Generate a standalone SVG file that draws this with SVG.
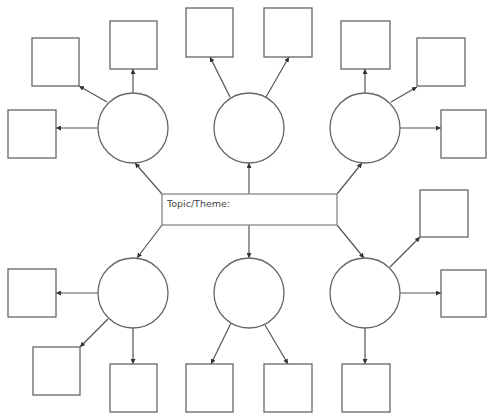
<svg xmlns="http://www.w3.org/2000/svg" width="487" height="413" viewBox="0 0 487 413">
<style>
.box{fill:#fff;stroke:#666;stroke-width:1.3}
.circ{fill:#fff;stroke:#666;stroke-width:1.3}
.topic{fill:#fff;stroke:#888;stroke-width:1.3}
.ln{stroke:#555;stroke-width:1.2;fill:none;marker-end:url(#ah)}
text{font-family:"DejaVu Sans","Liberation Sans",sans-serif;font-size:9.5px;fill:#444}
</style>
<defs>
<marker id="ah" viewBox="0 0 10 10" refX="10" refY="5" markerWidth="5" markerHeight="5" markerUnits="userSpaceOnUse" orient="auto">
<path d="M0,0 L10,5 L0,10 z" fill="#333"/>
</marker>
</defs>
<rect width="487" height="413" fill="#fff"/>
<g id="connectors">
<line class="ln" x1="162" y1="194" x2="135" y2="163"/>
<line class="ln" x1="249" y1="194" x2="249" y2="163"/>
<line class="ln" x1="337" y1="194" x2="362" y2="163"/>
<line class="ln" x1="162" y1="225" x2="137" y2="258"/>
<line class="ln" x1="249" y1="225" x2="249" y2="258"/>
<line class="ln" x1="337" y1="225" x2="364" y2="258"/>
<line class="ln" x1="133" y1="93" x2="133" y2="69"/>
<line class="ln" x1="107" y1="102" x2="79" y2="86"/>
<line class="ln" x1="98" y1="128" x2="56" y2="128"/>
<line class="ln" x1="230" y1="97" x2="210" y2="57"/>
<line class="ln" x1="266" y1="97" x2="289" y2="57"/>
<line class="ln" x1="365" y1="93" x2="365" y2="69"/>
<line class="ln" x1="391" y1="102" x2="417" y2="87"/>
<line class="ln" x1="400" y1="128" x2="441" y2="128"/>
<line class="ln" x1="98" y1="293" x2="56" y2="293"/>
<line class="ln" x1="108" y1="319" x2="80" y2="347"/>
<line class="ln" x1="133" y1="328" x2="133" y2="364"/>
<line class="ln" x1="231" y1="323" x2="211" y2="364"/>
<line class="ln" x1="265" y1="325" x2="288" y2="364"/>
<line class="ln" x1="390" y1="267" x2="420" y2="237"/>
<line class="ln" x1="400" y1="293" x2="441" y2="293"/>
<line class="ln" x1="365" y1="328" x2="365" y2="364"/>
</g>
<g id="topic"><rect class="topic" x="162" y="194" width="175" height="31"/><text x="167" y="207">Topic/Theme:</text></g>
<g id="c1"><circle class="circ" cx="133" cy="128" r="35"/></g>
<g id="c2"><circle class="circ" cx="249" cy="128" r="35"/></g>
<g id="c3"><circle class="circ" cx="365" cy="128" r="35"/></g>
<g id="c4"><circle class="circ" cx="133" cy="293" r="35"/></g>
<g id="c5"><circle class="circ" cx="249" cy="293" r="35"/></g>
<g id="c6"><circle class="circ" cx="365" cy="293" r="35"/></g>
<g id="b1"><rect class="box" x="32" y="38" width="47" height="48"/></g>
<g id="b2"><rect class="box" x="110" y="21" width="47" height="48"/></g>
<g id="b3"><rect class="box" x="8" y="110" width="48" height="48"/></g>
<g id="b4"><rect class="box" x="186" y="8" width="47" height="49"/></g>
<g id="b5"><rect class="box" x="264" y="8" width="48" height="49"/></g>
<g id="b6"><rect class="box" x="341" y="21" width="49" height="48"/></g>
<g id="b7"><rect class="box" x="417" y="38" width="48" height="48"/></g>
<g id="b8"><rect class="box" x="441" y="110" width="45" height="48"/></g>
<g id="b9"><rect class="box" x="420" y="190" width="48" height="47"/></g>
<g id="b10"><rect class="box" x="441" y="270" width="45" height="47"/></g>
<g id="b11"><rect class="box" x="8" y="269" width="48" height="48"/></g>
<g id="b12"><rect class="box" x="33" y="347" width="47" height="48"/></g>
<g id="b13"><rect class="box" x="110" y="364" width="47" height="48"/></g>
<g id="b14"><rect class="box" x="186" y="364" width="47" height="48"/></g>
<g id="b15"><rect class="box" x="264" y="364" width="48" height="48"/></g>
<g id="b16"><rect class="box" x="342" y="364" width="48" height="48"/></g>
</svg>
